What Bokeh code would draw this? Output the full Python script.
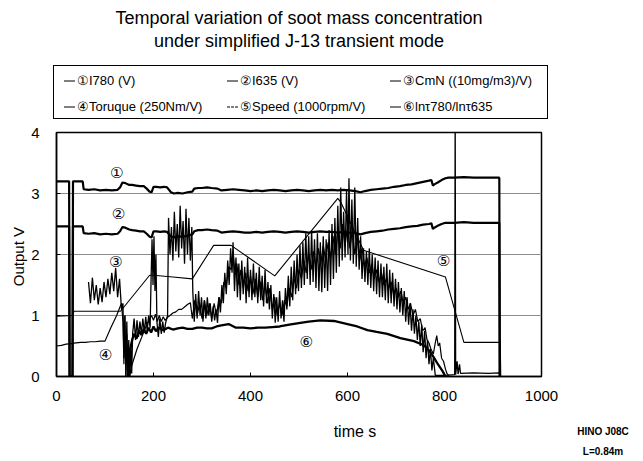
from bokeh.plotting import figure
from bokeh.layouts import column
from bokeh.models import Range1d, FixedTicker, ColumnDataSource, Div
from bokeh.embed import file_html
from bokeh.resources import INLINE
from bokeh.core.properties import value

FONT = "Liberation Sans"

# ---------------- data ----------------
x_ticks = [0, 200, 400, 600, 800, 1000]
y_ticks = [0, 1, 2, 3, 4]

# (1) I780 (V)
i780 = [(0,3.20),(26,3.20),(27,0),(33,0),(34,3.20),(54,3.20),(56,3.07),(66,3.06),(78,3.07),(90,3.05),
        (102,3.06),(114,3.05),(126,3.06),(131,3.10),(136,3.18),(142,3.17),(150,3.14),(156,3.14),(164,3.13),
        (172,3.12),(180,3.12),(186,3.08),(192,3.03),(196,3.02),(200,3.11),(206,3.11),(214,3.10),(222,3.11),
        (228,3.10),(236,3.02),(242,3.00),(250,3.01),(260,3.00),(270,3.02),(280,3.03),(284,3.08),(292,3.09),
        (300,3.09),(310,3.10),(320,3.09),(332,3.08),(340,3.05),(352,3.06),(364,3.07),(376,3.06),(388,3.05),
        (400,3.04),(412,3.05),(424,3.04),(436,3.05),(448,3.06),(460,3.05),(472,3.04),(484,3.05),(496,3.06),
        (508,3.05),(520,3.04),(532,3.05),(544,3.06),(556,3.05),(568,3.06),(580,3.05),(592,3.06),(604,3.05),
        (616,3.04),(627,3.02),(636,3.04),(648,3.06),(660,3.07),(672,3.08),(684,3.09),(696,3.11),(708,3.12),
        (720,3.14),(732,3.15),(744,3.17),(756,3.19),(768,3.21),(773,3.22),(776,3.13),(779,3.15),(786,3.18),
        (794,3.22),(802,3.25),(808,3.26),(820,3.26),(840,3.27),(860,3.26),(880,3.26),(900,3.26),(913,3.26),(914,0)]

# (2) I635 (V)
i635 = [(0,2.46),(26,2.46),(27,0),(33,0),(34,2.46),(54,2.46),(56,2.35),(66,2.34),(78,2.35),(90,2.33),
        (102,2.34),(114,2.33),(126,2.34),(131,2.38),(136,2.45),(142,2.44),(150,2.41),(156,2.40),(164,2.39),
        (172,2.38),(180,2.38),(186,2.34),(192,2.29),(196,2.28),(200,2.38),(206,2.38),(214,2.37),(222,2.38),
        (228,2.37),(236,2.30),(242,2.28),(250,2.30),(260,2.29),(270,2.31),(280,2.33),(284,2.38),(292,2.40),
        (300,2.40),(310,2.41),(320,2.40),(332,2.39),(340,2.36),(352,2.37),(364,2.38),(376,2.37),(388,2.36),
        (400,2.36),(412,2.37),(424,2.36),(436,2.37),(448,2.38),(460,2.37),(472,2.36),(484,2.37),(496,2.38),
        (508,2.37),(520,2.36),(532,2.37),(544,2.38),(556,2.37),(568,2.37),(580,2.36),(592,2.37),(604,2.36),
        (616,2.35),(627,2.33),(636,2.35),(648,2.37),(660,2.38),(672,2.39),(684,2.41),(696,2.42),(708,2.43),
        (720,2.45),(732,2.46),(744,2.47),(756,2.49),(768,2.50),(773,2.51),(776,2.42),(779,2.44),(786,2.47),
        (794,2.50),(802,2.52),(808,2.52),(820,2.52),(840,2.53),(860,2.52),(880,2.52),(900,2.52),(913,2.52),(914,0)]

# (3) CmN ((10mg/m3)/V)
cmn = [(66,1.55),(70,1.20),(74,1.62),(78,1.25),(82,1.50),(86,1.18),(90,1.45),(94,1.22),(98,1.55),(102,1.30),
       (106,1.60),(110,1.35),(114,1.70),(118,1.40),(122,1.78),(126,1.30),(130,1.60),(134,1.10),(137,1.20),
       (139,0.30),(141,1.00),(143,0.00),(145,0.90),(147,0.00),(149,0.60),(151,0.00),(153,0.50),(155,0.05),
       (157,0.70),(160,0.95),(163,0.60),(166,0.92),(169,0.65),(172,0.90),(175,0.70),(178,0.95),(181,0.72),
       (184,0.98),(187,0.75),(190,1.00),(193,0.80),(195,1.60),(197,2.25),(199,1.50),(201,2.30),(203,1.40),
       (205,2.00),(207,0.90),(210,0.65),(213,0.95),(216,0.70),(219,0.90),(222,0.72),(225,0.88),(229,1.00),
       (231,2.60),(234,2.00),(237,2.45),(240,1.90),(243,2.70),(246,2.05),(249,2.50),(252,1.95),(255,2.80),
       (258,2.10),(261,2.55),(264,1.85),(267,2.75),(270,2.00),(273,2.60),(276,1.90),(279,2.45),(281,1.40),
       (284,0.90),(287,1.35),(290,0.95),(293,1.40),(296,1.00),(299,1.30),(302,0.90),(305,1.25),(308,0.95),
       (311,1.30),(314,1.00),(317,1.20),(320,0.90),(323,1.15),(326,0.92),(329,1.10),(332,0.88),(335,1.30),
       (338,1.05),(341,1.50),(344,1.20),(347,1.70),(350,1.35),(353,1.90),(356,1.50),(359,2.10),(362,1.70),
       (364,2.20),(367,1.40),(370,1.95),(373,1.30),(376,1.85),(379,1.25),(382,1.90),(385,1.35),(388,1.80),
       (391,1.20),(394,1.95),(397,1.30),(400,1.75),(403,1.25),(406,1.85),(409,1.30),(412,1.70),(415,1.20),
       (418,1.80),(421,1.25),(424,1.65),(427,1.15),(430,1.75),(433,1.20),(436,1.55),(439,1.10),(442,1.50),
       (445,0.95),(448,1.35),(451,0.88),(454,1.30),(457,0.90),(460,1.40),(463,0.95),(466,1.25),(469,0.90),
       (472,1.45),(475,1.10),(478,1.65),(481,1.15),(484,1.80),(487,1.25),(490,1.90),(493,1.35),(496,2.00),
       (499,1.40),(502,2.15),(505,1.45),(508,2.20),(511,1.50),(514,2.35),(517,1.60),(520,2.30),(523,1.50),
       (526,2.40),(529,1.55),(532,2.25),(535,1.45),(538,2.35),(541,1.40),(544,2.20),(547,1.38),(550,2.30),
       (553,1.45),(556,2.25),(559,1.40),(562,2.40),(565,1.50),(568,2.50),(571,1.60),(574,2.60),(577,1.70),
       (580,2.80),(583,1.80),(586,3.10),(589,1.90),(592,2.70),(595,1.95),(598,3.05),(601,2.00),(603,3.25),
       (606,1.90),(609,2.90),(612,1.85),(615,3.10),(618,1.80),(621,2.60),(624,1.75),(627,2.30),(630,1.60),
       (633,2.10),(636,1.55),(639,2.05),(642,1.50),(645,2.10),(648,1.45),(651,2.00),(654,1.40),(657,1.95),
       (660,1.35),(663,1.90),(666,1.30),(669,1.85),(672,1.30),(675,1.80),(678,1.25),(681,1.85),(684,1.20),
       (687,1.75),(690,1.20),(693,1.70),(696,1.15),(699,1.60),(702,1.10),(705,1.55),(708,1.05),(711,1.45),
       (714,1.00),(717,1.40),(720,0.90),(723,1.30),(726,0.85),(729,1.20),(732,0.75),(735,1.10),(738,0.70),
       (741,1.00),(744,0.60),(747,0.90),(750,0.50),(753,0.85),(756,0.40),(759,0.75),(762,0.30),(765,0.60),
       (768,0.20),(771,0.45),(774,0.10),(777,0.30),(781,0.02),(800,0.02),(820,0.03),(821,0.03),(822,4.50),
       (823,0.03),(826,0.25),(828,0.04),(831,0.20),(833,0.05),(860,0.06),(890,0.05),(913,0.06),(914,0.0)]

# (4) Toruque (250Nm/V)
torque = [(0,0.50),(10,0.51),(20,0.53),(30,0.54),(40,0.55),(50,0.56),(60,0.56),(70,0.57),(80,0.57),(90,0.58),
          (100,0.58),(112,0.80),(124,1.00),(134,1.20),(137,0.90),(139,0.20),(141,1.00),(143,0.00),(145,0.70),
          (147,0.00),(149,0.40),(151,0.00),(154,0.15),(156,0.20),(166,0.45),(176,0.65),(186,0.85),(196,1.00),
          (200,0.92),(204,1.02),(208,0.90),(212,1.00),(216,0.90),(220,0.98),(224,0.92),(229,0.97),(234,1.00),
          (240,1.04),(246,1.06),(252,1.10),(258,1.10),(264,1.14),(270,1.18),(276,1.21),(280,0.95),(285,1.25),
          (290,1.00),(295,1.20),(300,0.95),(305,1.25),(310,1.00),(315,1.20),(320,0.95),(325,1.20),(330,1.00),
          (335,1.30),(340,1.20),(345,1.55),(350,1.45),(355,1.80),(360,1.75),(364,2.05),(368,1.70),(372,1.85),
          (376,1.50),(380,1.75),(385,1.45),(390,1.70),(395,1.40),(400,1.65),(405,1.35),(410,1.60),(415,1.30),
          (420,1.55),(425,1.25),(430,1.50),(435,1.20),(440,1.45),(445,1.10),(450,1.30),(455,1.00),(460,1.20),
          (465,1.00),(470,1.25),(475,1.15),(480,1.45),(485,1.30),(490,1.60),(495,1.45),(500,1.75),(505,1.60),
          (510,1.90),(515,1.70),(520,2.00),(525,1.75),(530,2.05),(535,1.80),(540,2.10),(545,1.85),(550,2.15),
          (555,1.90),(560,2.20),(565,1.95),(570,2.30),(575,2.00),(580,2.40),(585,2.10),(590,2.50),(595,2.15),
          (600,2.45),(605,2.10),(610,2.40),(615,2.00),(620,2.30),(625,1.90),(630,2.10),(635,1.80),(640,1.95),
          (645,1.70),(650,1.85),(655,1.60),(660,1.75),(665,1.55),(670,1.70),(675,1.50),(680,1.60),(685,1.45),
          (690,1.55),(695,1.35),(700,1.45),(705,1.30),(710,1.40),(715,1.20),(720,1.30),(725,1.10),(730,1.20),
          (735,1.00),(740,1.10),(745,0.90),(750,0.95),(755,0.75),(760,0.80),(764,0.60),(768,0.55),(772,0.45),
          (777,0.37),(781,0.55),(784,0.67),(787,0.50),(790,0.55),(794,0.30),(798,0.25),(802,0.12),(805,0.05),
          (810,0.00),(915,0.00)]

# (5) Speed (1000rpm/V)
speed = [(0,0.99),(33,1.00),(36,1.07),(132,1.07),(192,1.66),(200,1.66),(240,1.63),(280,1.60),(324,2.15),
         (360,2.15),(450,1.65),(580,2.92),(586,2.86),(633,2.07),(802,1.63),(840,0.56),(915,0.56),(916,0.00)]

# (6) ln tau780 / ln tau635
ratio = [(148,0.00),(152,0.45),(156,0.60),(160,0.70),(165,0.62),(170,0.75),(175,0.68),(180,0.78),(185,0.70),
         (190,0.80),(195,0.72),(200,0.82),(205,0.74),(210,0.80),(220,0.76),(230,0.80),(240,0.77),(250,0.79),
         (260,0.80),(270,0.78),(280,0.78),(290,0.80),(300,0.80),(310,0.79),(320,0.79),(330,0.82),(340,0.84),
         (355,0.86),(370,0.80),(385,0.80),(400,0.79),(415,0.80),(430,0.80),(445,0.81),(460,0.82),(480,0.85),
         (503,0.88),(520,0.90),(544,0.92),(572,0.91),(600,0.86),(620,0.82),(641,0.76),(660,0.73),(682,0.70),
         (709,0.63),(737,0.58),(755,0.52),(764,0.47),(775,0.35),(785,0.22),(795,0.10),(802,0.00)]

# circled curve markers inside the plot
mark_text = ["①", "②", "③", "④", "⑤", "⑥"]
mark_t = [124, 128, 122, 101, 798, 515]
mark_v = [3.34, 2.67, 1.87, 0.36, 1.90, 0.57]

legend_text = ["①I780 (V)", "②I635 (V)", "③CmN ((10mg/m3)/V)",
               "④Toruque (250Nm/V)", "⑤Speed (1000rpm/V)", "⑥lnτ780/lnτ635"]
legend_dashed = [False, False, False, False, True, False]

title_lines = ["Temporal variation of soot mass concentration",
               "under simplified J-13 transient mode"]
x_label = "time s"
y_label = "Output  V"
note_lines = ["HINO J08C", "L=0.84m"]


def split(pairs):
    return [a for a, b in pairs], [b for a, b in pairs]


def place(x, y, inner, size, anchor="center", extra=""):
    tx = "-50%" if anchor == "center" else "0"
    return ('<div style="position:absolute;left:%dpx;top:%dpx;transform:translate(%s,-50%%);'
            'font-size:%s;white-space:nowrap;line-height:1;%s">%s</div>' % (x, y, tx, size, extra, inner))


# ---------------- header: title + legend (HTML text) ----------------
hdr = ['<div style="position:relative;width:643px;height:122px;font-family:\'%s\',sans-serif;color:#000;">' % FONT]
for line, yy in zip(title_lines, [18, 41]):
    hdr.append(place(299, yy, line, "18px"))
hdr.append('<div style="position:absolute;left:53px;top:65px;width:495px;height:54px;'
           'border:1px solid #000;"></div>')
col_x = [64, 227, 390]
row_y = [80, 106]
for i, txt in enumerate(legend_text):
    style = "dashed" if legend_dashed[i] else "solid"
    dash = ('<span style="display:inline-block;width:11px;height:0;border-top:1px %s #000;'
            'vertical-align:middle;margin-right:2px;"></span>' % style)
    hdr.append(place(col_x[i % 3], row_y[i // 3], dash + txt, "13px", anchor="left"))
hdr.append('</div>')
header = Div(text="".join(hdr), width=643, height=122, margin=(0, 0, 0, 0))

# ---------------- main chart ----------------
p = figure(width=643, height=288, x_range=Range1d(0, 1000), y_range=Range1d(0, 4),
           output_backend="svg", toolbar_location=None,
           min_border_left=56, min_border_right=102, min_border_top=10, min_border_bottom=34)
p.background_fill_color = "white"
p.border_fill_color = "white"
p.outline_line_color = "black"
p.outline_line_width = 1.5

p.xgrid.visible = False
p.ygrid.ticker = FixedTicker(ticks=[1, 2, 3])
p.ygrid.grid_line_color = "#8c8c8c"
p.ygrid.grid_line_width = 1

for ax in (p.xaxis[0], p.yaxis[0]):
    ax.major_tick_in = 4
    ax.major_tick_out = 0
    ax.minor_tick_line_color = None
    ax.axis_line_color = "black"
    ax.axis_line_width = 1.5
    ax.major_tick_line_color = "black"
    ax.major_label_text_font = FONT
    ax.major_label_text_font_size = "15px"
    ax.major_label_text_color = "black"

p.xaxis.ticker = FixedTicker(ticks=x_ticks)
p.yaxis.ticker = FixedTicker(ticks=y_ticks)
p.xaxis.major_label_standoff = 14
p.yaxis.major_label_standoff = 17
p.yaxis.axis_label = y_label
p.yaxis.axis_label_text_font = FONT
p.yaxis.axis_label_text_font_size = "15px"
p.yaxis.axis_label_text_font_style = "normal"
p.yaxis.axis_label_text_color = "black"
p.yaxis.axis_label_standoff = 1

t, v = split(speed)
p.line(t, v, line_color="black", line_width=1.1)
t, v = split(torque)
p.line(t, v, line_color="black", line_width=1.2)
t, v = split(cmn)
p.line(t, v, line_color="black", line_width=1.3)
t, v = split(ratio)
p.line(t, v, line_color="black", line_width=2.3)
t, v = split(i780)
p.line(t, v, line_color="black", line_width=2.2)
t, v = split(i635)
p.line(t, v, line_color="black", line_width=2.2)

msrc = ColumnDataSource(dict(x=mark_t, y=mark_v, text=mark_text))
p.text(x="x", y="y", text="text", source=msrc, text_font=value("DejaVu Sans"),
       text_font_size="15px", text_align="center", text_baseline="middle", text_color="black")

# ---------------- footer: axis title and note (HTML text) ----------------
ftr = ['<div style="position:relative;width:643px;height:51px;font-family:\'%s\',sans-serif;color:#000;">' % FONT]
ftr.append(place(355, 22, x_label, "16px"))
for line, yy in zip(note_lines, [22, 42]):
    ftr.append(place(603, yy, line, "10px", extra="font-weight:bold;"))
ftr.append('</div>')
footer = Div(text="".join(ftr), width=643, height=51, margin=(0, 0, 0, 0))

layout = column(header, p, footer, spacing=0)
open("out.html", "w").write(file_html(layout, INLINE))
